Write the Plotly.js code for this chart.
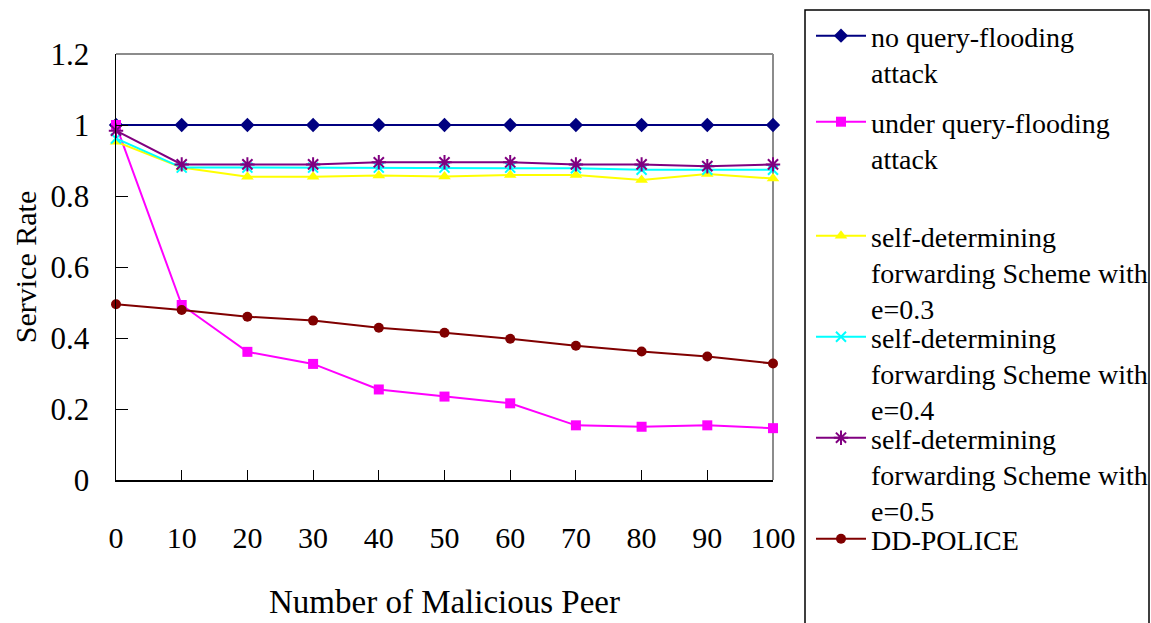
<!DOCTYPE html>
<html>
<head>
<meta charset="utf-8">
<script src="https://cdn.plot.ly/plotly-3.0.1.min.js"></script>
<style>
  html, body { margin: 0; padding: 0; background: #fff; }
  #chart { width: 1151px; height: 623px; }
</style>
</head>
<body>
<div id="chart"></div>
<script>
// ---- data ----
const maliciousPeers = [0, 10, 20, 30, 40, 50, 60, 70, 80, 90, 100];

const noAttack     = [1.0, 1.0, 1.0, 1.0, 1.0, 1.0, 1.0, 1.0, 1.0, 1.0, 1.0];
const underAttack  = [1.0, 0.493, 0.361, 0.327, 0.255, 0.235, 0.216, 0.154, 0.150, 0.154, 0.146];
const schemeE03    = [0.953, 0.880, 0.854, 0.854, 0.858, 0.855, 0.859, 0.859, 0.845, 0.862, 0.849];
const schemeE04    = [0.962, 0.880, 0.880, 0.880, 0.880, 0.880, 0.880, 0.878, 0.874, 0.874, 0.874];
const schemeE05    = [0.984, 0.889, 0.889, 0.889, 0.895, 0.895, 0.895, 0.889, 0.889, 0.884, 0.889];
const ddPolice     = [0.495, 0.479, 0.460, 0.449, 0.429, 0.415, 0.398, 0.378, 0.362, 0.348, 0.328];

const seriesNames = [
  "no query-flooding<br>attack",
  "under query-flooding<br>attack",
  "self-determining<br>forwarding Scheme with<br>e=0.3",
  "self-determining<br>forwarding Scheme with<br>e=0.4",
  "self-determining<br>forwarding Scheme with<br>e=0.5",
  "DD-POLICE"
];
const yTickVals = [0, 0.2, 0.4, 0.6, 0.8, 1, 1.2];
const xTickVals = maliciousPeers;

// ---- geometry (pixels) ----
const W = 1151, H = 623;
const plotL = 116, plotR = 773, plotT = 54, plotB = 480;
const pw = plotR - plotL, ph = plotB - plotT;
const px2x = p => (p - plotL) / pw;
const px2y = p => (plotB - p) / ph;

const FONT = 'Liberation Serif';

const styles = [
  {color: '#000080', symbol: 'diamond', size: 11},
  {color: '#FF00FF', symbol: 'square', size: 10},
  {color: '#FFFF00', symbol: 'triangle-up', size: 11},
  {color: '#00FFFF', symbol: 'x-thin-open', size: 10},
  {color: '#800080', symbol: 'asterisk-open', size: 12},
  {color: '#800000', symbol: 'circle', size: 10}
];
const seriesData = [noAttack, underAttack, schemeE03, schemeE04, schemeE05, ddPolice];

const legendMarkerY = [38, 124, 238, 339, 440, 541];
const legendKeys = ['legend', 'legend2', 'legend3', 'legend4', 'legend5', 'legend6'];

function fnt(size) { return {family: FONT, size: size, color: '#000000'}; }

const traces = seriesData.map((ys, i) => {
  const s = styles[i];
  const open = s.symbol.endsWith('-open');
  return {
    type: 'scatter',
    mode: 'lines+markers',
    x: maliciousPeers,
    y: ys,
    name: seriesNames[i],
    legend: legendKeys[i],
    cliponaxis: false,
    line: {color: s.color, width: 2},
    marker: {
      symbol: s.symbol,
      size: s.size,
      color: s.color,
      line: {color: s.color, width: open ? 2 : 0}
    }
  };
});

const layout = {
  width: W, height: H,
  margin: {l: plotL, r: W - plotR, t: plotT, b: H - plotB, pad: 0, autoexpand: false},
  paper_bgcolor: '#ffffff',
  plot_bgcolor: '#ffffff',
  font: fnt(28),
  showlegend: true,
  xaxis: {
    range: [0, 100],
    tickvals: xTickVals,
    ticks: 'inside', ticklen: 10, tickwidth: 1, tickcolor: '#000000',
    showline: true, linecolor: '#000000', linewidth: 1.5,
    showgrid: false, zeroline: false,
    tickfont: fnt(30),
    ticklabelstandoff: 30,
    title: {text: 'Number of Malicious Peer', font: fnt(33), standoff: 37}
  },
  yaxis: {
    range: [0, 1.2],
    tickvals: yTickVals,
    ticks: 'inside', ticklen: 12, tickwidth: 1, tickcolor: '#000000',
    showline: true, linecolor: '#000000', linewidth: 1.5,
    showgrid: false, zeroline: false,
    tickfont: fnt(31),
    ticklabelstandoff: 19,
    title: {text: 'Service Rate', font: fnt(30), standoff: 5}
  },
  shapes: [
    {type: 'line', xref: 'paper', yref: 'paper', x0: 0, x1: 1, y0: 1, y1: 1,
     line: {color: '#8c8c8c', width: 2}, layer: 'below'},
    {type: 'line', xref: 'paper', yref: 'paper', x0: 1, x1: 1, y0: 0, y1: 1,
     line: {color: '#8c8c8c', width: 2}, layer: 'below'},
    {type: 'rect', xref: 'paper', yref: 'paper',
     x0: px2x(805), x1: px2x(1149), y0: px2y(660), y1: px2y(10),
     line: {color: '#000000', width: 1.5}, fillcolor: 'rgba(0,0,0,0)', layer: 'above'}
  ]
};

legendKeys.forEach((k, i) => {
  layout[k] = {
    x: px2x(811), xanchor: 'left',
    y: px2y(legendMarkerY[i] - 27), yanchor: 'top',
    bgcolor: 'rgba(0,0,0,0)', borderwidth: 0,
    valign: 'top',
    itemwidth: 50,
    font: fnt(28)
  };
});

Plotly.newPlot('chart', traces, layout, {staticPlot: true, displayModeBar: false});
</script>
</body>
</html>
